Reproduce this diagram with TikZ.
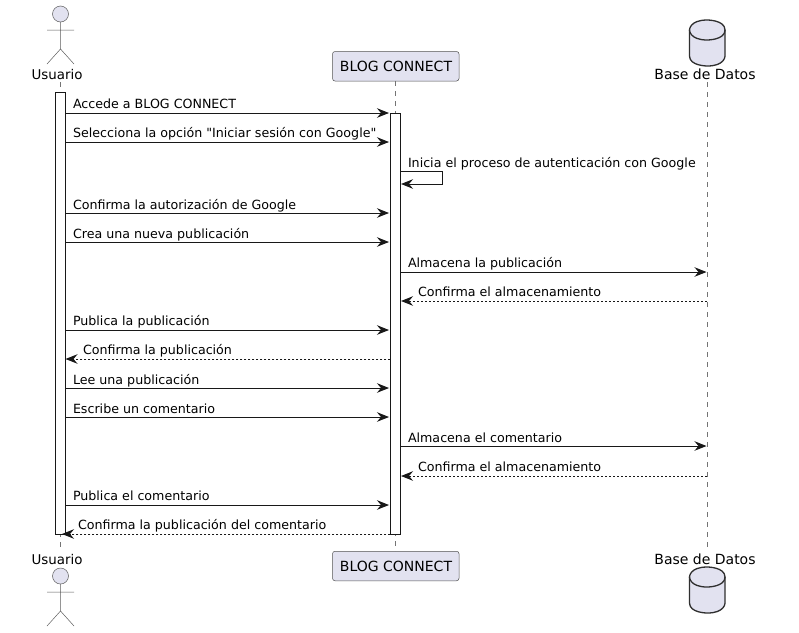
\documentclass[tikz,border=0pt]{standalone}
\usepackage{fontspec}
\setmainfont{DejaVu Sans}
\newfontfamily\straightfont{DejaVu Sans}
\usetikzlibrary{arrows.meta,calc}
\definecolor{ink}{HTML}{181818}
\definecolor{partfill}{HTML}{E2E2F0}
\tikzset{
  x=1pt,y=-1pt,
  msgtext/.style={anchor=base west,inner sep=0pt,outer sep=0pt,text=black,font=\fontsize{12.65}{15}\selectfont},
  parttext/.style={anchor=base,inner sep=0pt,outer sep=0pt,text=black,font=\fontsize{14}{16}\selectfont},
  partbox/.style={draw=ink!75,fill=partfill,line width=0.5pt,rounded corners=2.5pt,minimum width=126.5pt,minimum height=29.5pt,inner sep=0pt,outer sep=0pt},
  actbox/.style={draw=ink,fill=white,line width=1pt,minimum width=10.5pt,inner sep=0pt,outer sep=0pt},
  life/.style={draw=ink!60,line width=0.5pt,dash pattern=on 5pt off 5pt},
  tipstyle/.style={-{Stealth[length=12pt,width=9.5pt,inset=4pt,color=ink]}},
  msg/.style={draw=ink,line width=1pt,tipstyle},
  ret/.style={msg,dash pattern=on 2pt off 2pt},
  actorstroke/.style={draw=ink!70,line width=0.5pt},
  dbstroke/.style={draw=ink!90,line width=1.3pt},
  actorfig/.pic={
    \draw[actorstroke,fill=partfill] (0,14) circle[radius=8];
    \draw[actorstroke] (0,22) -- (0,49) (-13.5,30) -- (13.5,30) (-13.5,64) -- (0,49) -- (13.5,64);
  },
  dbfig/.pic={
    \filldraw[dbstroke,fill=partfill] (0,10) .. controls (0,10) and (0,0) .. (17.75,0)
      .. controls (17.75,0) and (35.5,0) .. (35.5,10) -- (35.5,36)
      .. controls (35.5,36) and (35.5,46) .. (17.75,46)
      .. controls (17.75,46) and (0,46) .. (0,36) -- cycle;
    \draw[dbstroke] (0,10) .. controls (0,10) and (0,20) .. (17.75,20)
      .. controls (17.75,20) and (35.5,20) .. (35.5,10);
  }
}
\begin{document}
\begin{tikzpicture}
\useasboundingbox (0,0) rectangle (799,632);
\fill[white] (0,0) rectangle (799,632);
% lifelines
\coordinate (uT) at (60.5,82); \coordinate (uB) at (60.5,547);
\coordinate (bT) at (395.5,81); \coordinate (bB) at (395.5,551);
\coordinate (dT) at (707.5,82); \coordinate (dB) at (707.5,547);
\draw[life] (uT) -- (uB);
\draw[life] (bT) -- (bB);
\draw[life] (dT) -- (dB);
% participants
\pic at (60.5,0) {actorfig};
\pic at (60.5,562) {actorfig};
\pic at (689.5,20) {dbfig};
\pic at (689.5,567) {dbfig};
\node[parttext] (uTop) at (57,79) {\fontsize{13.4}{16}\selectfont Usuario};
\node[parttext] (uBot) at (57,564) {\fontsize{13.4}{16}\selectfont Usuario};
\node[parttext] (dTop) at (705,79) {Base de Datos};
\node[parttext] (dBot) at (705,564) {Base de Datos};
\node[partbox] (bTop) at (395.75,66.25) {};
\node[partbox] (bBot) at (395.75,566) {};
\node[parttext] (bTopL) at (396,71) {BLOG CONNECT};
\node[parttext] (bBotL) at (396,571) {BLOG CONNECT};
% activations
\node[actbox,minimum height=442pt] (ua) at (60.25,313) {};
\node[actbox,minimum height=421pt] (ba) at (395.5,323.5) {};
% row coordinates
\foreach \n/\yy in {a/113,b/142,c/171,d/184,e/213,f/242,g/272,h/301,i/330,j/359,k/388,l/417,m/446,n/476,o/505,p/534}
  \coordinate (r\n) at (0,\yy);
\coordinate (dl) at (706.5,0);
\coordinate (bw) at (389,0);
\coordinate (be) at (401,0);
\coordinate (selfx) at (442.5,0);
\coordinate (ue) at (65.5,0);
\coordinate (uend) at (62,0);
% messages
\draw[msg] (ua.east |- ra) -- (bw |- ra);
\draw[msg] (ua.east |- rb) -- (bw |- rb);
\draw[msg] (ba.east |- rc) -- (selfx |- rc) -- (selfx |- rd) -- (be |- rd);
\draw[msg] (ua.east |- re) -- (bw |- re);
\draw[msg] (ua.east |- rf) -- (bw |- rf);
\draw[msg] (ba.east |- rg) -- (dl |- rg);
\draw[ret] (dl |- rh) -- (be |- rh);
\draw[msg] (ua.east |- ri) -- (bw |- ri);
\draw[ret] (ba.west |- rj) -- (ue |- rj);
\draw[msg] (ua.east |- rk) -- (bw |- rk);
\draw[msg] (ua.east |- rl) -- (bw |- rl);
\draw[msg] (ba.east |- rm) -- (dl |- rm);
\draw[ret] (dl |- rn) -- (be |- rn);
\draw[msg] (ua.east |- ro) -- (bw |- ro);
\draw[ret] (ba.west |- rp) -- (uend |- rp);
% labels
\node[msgtext] (m1) at (73,108) {Accede a BLOG CONNECT};
\node[msgtext] (m2) at (73,137) {\straightfont Selecciona la opción "Iniciar sesión con Google"};
\node[msgtext] (m3) at (408,167) {Inicia el proceso de autenticación con Google};
\node[msgtext] (m4) at (73,209) {Confirma la autorización de Google};
\node[msgtext] (m5) at (73,238) {Crea una nueva publicación};
\node[msgtext] (m6) at (408,267) {Almacena la publicación};
\node[msgtext] (m7) at (418,296) {Confirma el almacenamiento};
\node[msgtext] (m8) at (73,325) {Publica la publicación};
\node[msgtext] (m9) at (83,354) {Confirma la publicación};
\node[msgtext] (m10) at (73,384) {Lee una publicación};
\node[msgtext] (m11) at (73,413) {Escribe un comentario};
\node[msgtext] (m12) at (408,442) {Almacena el comentario};
\node[msgtext] (m13) at (418,471) {Confirma el almacenamiento};
\node[msgtext] (m14) at (73,500) {Publica el comentario};
\node[msgtext] (m15) at (78,529) {Confirma la publicación del comentario};
\end{tikzpicture}
\end{document}
